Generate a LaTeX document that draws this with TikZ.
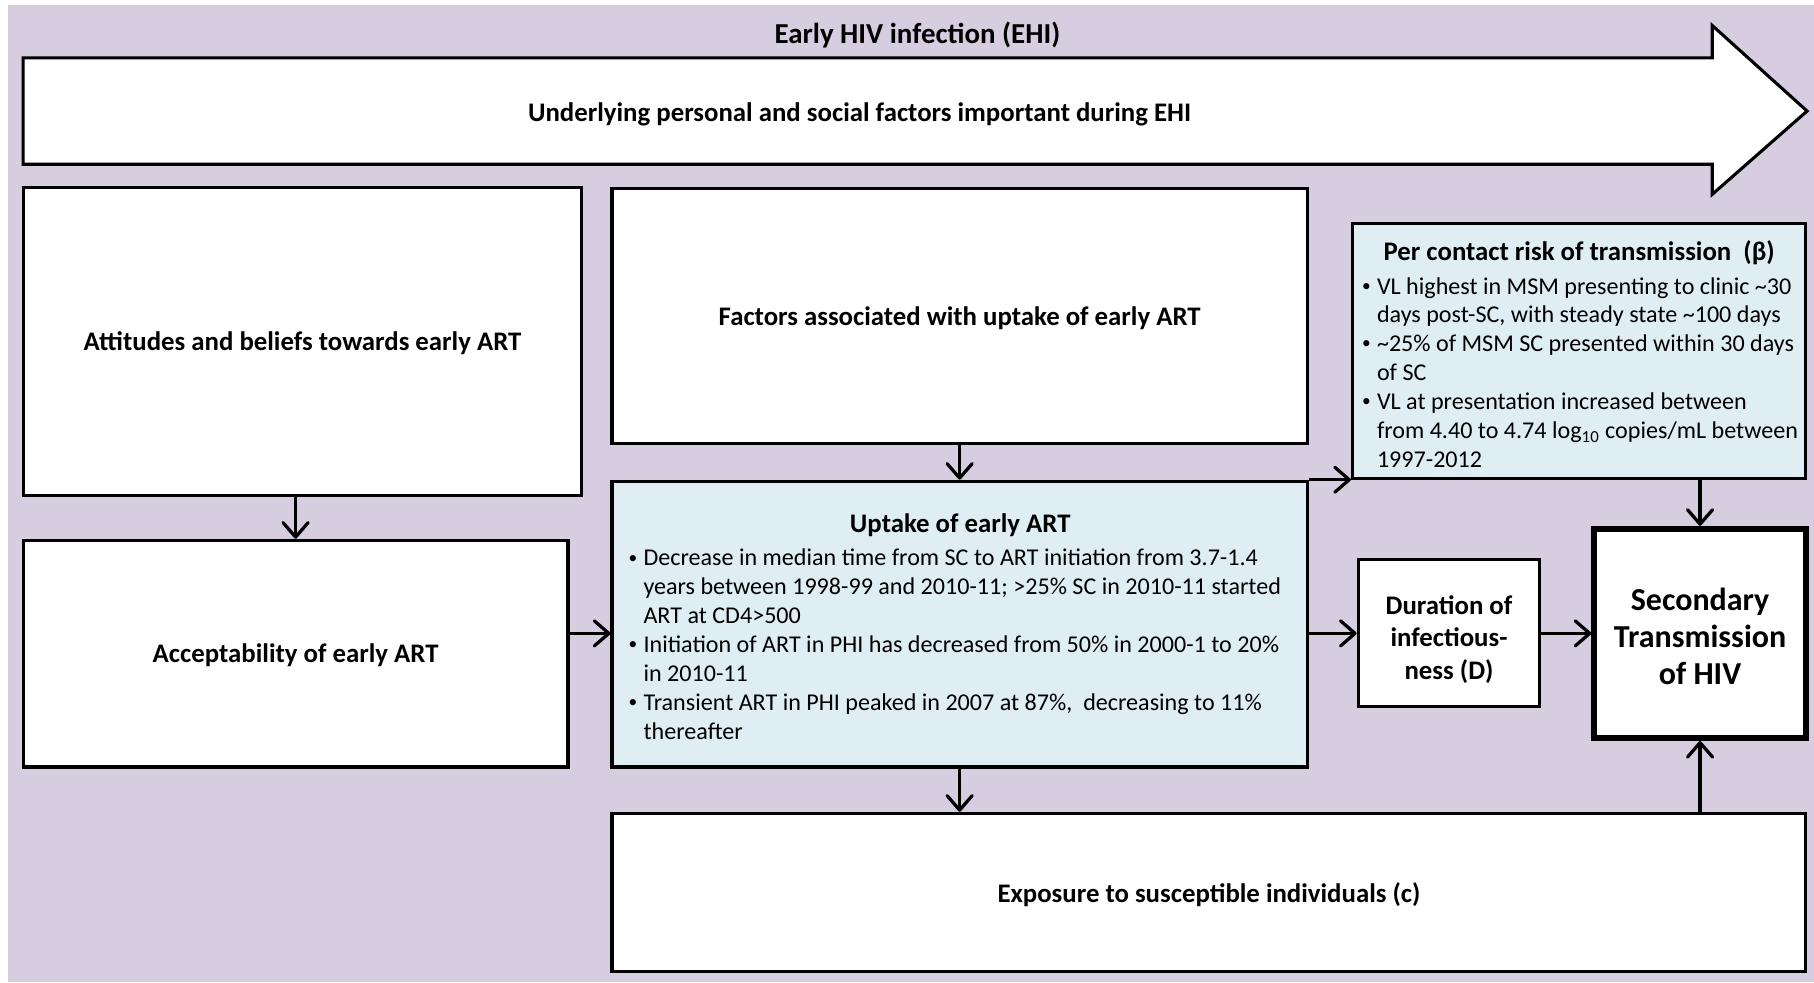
\documentclass[tikz,border=0pt]{standalone}
\usepackage{fontspec}
\setmainfont{Carlito}
\usetikzlibrary{arrows.meta,fit}
\definecolor{bgpurple}{RGB}{214,205,225}
\definecolor{paleblue}{RGB}{222,238,243}

\newcommand{\bul}{\makebox[0.62em][l]{\raisebox{0.12em}{\fontsize{9}{9}\selectfont\textbullet}}}
\newcommand{\ind}{\hspace*{0.62em}}
\newcommand{\tld}{\textasciitilde}

\tikzset{
  box/.style={draw=black, line width=1.6pt, fill=white, inner sep=0pt},
  infobox/.style={box, fill=paleblue},
  head/.style={font=\bfseries\fontsize{13.9}{16.8}\selectfont, inner sep=0pt, align=center, yshift=-1pt},
  titlehead/.style={font=\bfseries\fontsize{15}{18}\selectfont, inner sep=0pt},
  bighead/.style={font=\bfseries\fontsize{16.6}{19.2}\selectfont, inner sep=0pt, align=center},
  body/.style={font=\fontsize{12.5}{15}\selectfont, align=left, inner sep=0pt, anchor=west},
  link/.style={line width=1.7pt, -{Straight Barb[length=7.5pt,width=13pt,round]}},
}

\begin{document}
\begin{tikzpicture}[x=0.6pt, y=-0.6pt]
  \useasboundingbox (0,0) rectangle (1568,849);
  \fill[bgpurple] (7,4) rectangle (1568,849);

  % timeline arrow across the top
  \node[titlehead] (ehi) at (793,30) {Early HIV infection (EHI)};
  \draw[line width=1.6pt, fill=white, line join=miter]
    (20,50) -- (1480,50) -- (1480,22) -- (1562,96) -- (1480,168)
    -- (1480,142) -- (20,142) -- cycle;
  \node[head] (under) at (743,97) {Underlying personal and social factors important during EHI};

  % boxes
  \node[box, fit={(20,162)(503,428)}] (att) {};
  \node[head] (att-t) at (att.center) {Attitudes and beliefs towards early ART};

  \node[box, fit={(20,467)(491,663)}] (acc) {};
  \node[head] (acc-t) at (acc.center) {Acceptability of early ART};

  \node[box, fit={(529,163)(1130,383)}] (fac) {};
  \node[head] (fac-t) at (fac.center) {Factors associated with uptake of early ART};

  \node[infobox, fit={(529,416)(1130,663)}] (upt) {};
  \node[head] (upt-t) at (830,452) {Uptake of early ART};
  \node[body] (upt-b) at (543,557) {%
    \bul Decrease in median time from SC to ART initiation from 3.7-1.4\\
    \ind years between 1998-99 and 2010-11; >25\% SC in 2010-11 started\\
    \ind ART at CD4>500\\
    \bul Initiation of ART in PHI has decreased from 50\% in 2000-1 to 20\%\\
    \ind in 2010-11\\
    \bul Transient ART in PHI peaked in 2007 at 87\%,\ \ decreasing to 11\%\\
    \ind thereafter};

  \node[infobox, fit={(1169,193)(1561,414)}] (pcr) {};
  \node[head] (pcr-t) at (1365,217) {Per contact risk of transmission\ \ (β)};
  \node[body] (pcr-b) at (1177,322) {%
    \bul VL highest in MSM presenting to clinic \tld30\\
    \ind days post-SC, with steady state \tld100 days\\
    \bul \tld25\% of MSM SC presented within 30 days\\
    \ind of SC\\
    \bul VL at presentation increased between\\
    \ind from 4.40 to 4.74 log\textsubscript{10} copies/mL between\\
    \ind 1997-2012};

  \node[box, fit={(1174,484)(1331,611)}] (dur) {};
  \node[head] (dur-t) at (1252.5,551) {Duration of\\infectious-\\ness (D)};

  \node[box, line width=3pt, fit={(1378,457)(1561,638)}] (sec) {};
  \node[bighead] (sec-t) at (1469.5,550) {Secondary\\Transmission\\of HIV};

  \node[box, fit={(529,703)(1561,840)}] (exp) {};
  \node[head] (exp-t) at (exp.center) {Exposure to susceptible individuals (c)};

  % connectors
  \draw[link] (acc.north |- att.south) -- (acc.north);
  \draw[link] (acc.east |- dur.west) -- (upt.west |- dur.west);
  \draw[link] (fac.south) -- (upt.north);
  \draw[link] (upt.north east) -- (upt.north east -| pcr.west);
  \draw[link] (upt.east |- dur.west) -- (dur.west);
  \draw[link] (dur.east) -- (dur.east -| sec.west);
  \draw[link] (pcr.south -| sec.north) -- (sec.north);
  \draw[link] (upt.south) -- (upt.south |- exp.north);
  \draw[link] (exp.north -| sec.south) -- (sec.south);
\end{tikzpicture}
\end{document}
